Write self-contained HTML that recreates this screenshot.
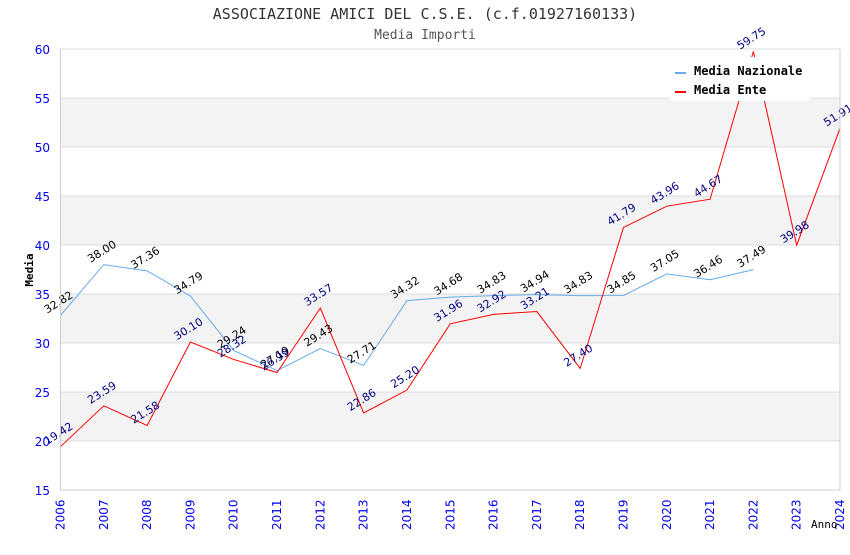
<!DOCTYPE html>
<html><head><meta charset="utf-8"><style>
body{margin:0;background:#fff;}
svg text{font-family:"DejaVu Sans","Liberation Sans",sans-serif;}
.mono{font-family:"DejaVu Sans Mono","Liberation Mono",monospace;}
</style></head><body>
<svg id="c" width="850" height="550" xmlns="http://www.w3.org/2000/svg">
<text x="425" y="19" text-anchor="middle" class="mono" font-size="15" fill="#333">ASSOCIAZIONE AMICI DEL C.S.E. (c.f.01927160133)</text>
<text x="425" y="39" text-anchor="middle" class="mono" font-size="13" fill="#555">Media Importi</text>
<g id="grid"></g>
<g id="series"></g>
<g id="labels"></g>
<g id="axes"></g>
<g>
<rect x="670" y="57" width="140" height="44" fill="#fff"/>
<line x1="675" y1="73" x2="686" y2="73" stroke="#66aaee" stroke-width="2"/>
<text x="694" y="75" class="mono" font-size="12" font-weight="bold" fill="#000">Media Nazionale</text>
<line x1="675" y1="92" x2="686" y2="92" stroke="#ff0000" stroke-width="2"/>
<text x="694" y="94" class="mono" font-size="12" font-weight="bold" fill="#000">Media Ente</text>
</g>
<text x="33" y="270" transform="rotate(-90 33 270)" text-anchor="middle" class="mono" font-size="11" font-weight="bold" fill="#000">Media</text>
<text x="811" y="528" class="mono" font-size="11" fill="#000">Anno</text>
</svg>
<script>
const years=[2006,2007,2008,2009,2010,2011,2012,2013,2014,2015,2016,2017,2018,2019,2020,2021,2022,2023,2024];
const nazionale=[32.82,38.00,37.36,34.79,29.24,27.19,29.43,27.71,34.32,34.68,34.83,34.94,34.83,34.85,37.05,36.46,37.49];
const ente=[19.42,23.59,21.58,30.10,28.32,26.99,33.57,22.86,25.20,31.96,32.92,33.21,27.40,41.79,43.96,44.67,59.75,39.98,51.91];
const yTicks=[15,20,25,30,35,40,45,50,55,60];
const L=60.5,R=840,T=49,B=490,yMin=15,yMax=60;
const x=i=>L+(R-L)*i/(years.length-1);
const y=v=>B-(v-yMin)/(yMax-yMin)*(B-T);
const NS="http://www.w3.org/2000/svg";
function mk(tag,attrs,parent,txt){const e=document.createElementNS(NS,tag);for(const k in attrs)e.setAttribute(k,attrs[k]);if(txt!==undefined)e.textContent=txt;document.getElementById(parent).appendChild(e);return e;}
for(let k=0;k<yTicks.length-1;k++){
 if(k%2===1){const r=mk('rect',{x:L,y:y(yTicks[k+1]),width:R-L,height:y(yTicks[k])-y(yTicks[k+1]),fill:'#f3f3f3'},'grid');
 
 }
}
yTicks.forEach(t=>{
 const l=mk('line',{x1:L,x2:R,y1:y(t),y2:y(t),stroke:'#ddd'},'grid');
 
 
 const tx=mk('text',{x:50,y:y(t)+5,'text-anchor':'end','font-size':12,fill:'#0000ee'},'axes',t);
 
 
});
const ax=mk('path',{d:`M${L},${T}V${B}H${R}V${T}`,fill:'none',stroke:'#ccc'},'axes');


years.forEach((yr,i)=>{
 const tx=mk('text',{x:x(i)+4,y:530,transform:`rotate(-90 ${x(i)+4} 530)`,'font-size':12,fill:'#0000ee'},'axes',yr);
 
 
});
function series(vals,color,lblColor,name){
 const p=mk('polyline',{points:vals.map((v,i)=>x(i)+','+y(v)).join(' '),fill:'none',stroke:color,'stroke-width':1},'series');
 
 
 vals.forEach((v,i)=>{
  const cx=x(i),cy=y(v)-10;
  const t=mk('text',{x:cx,y:cy,'text-anchor':'middle','font-size':11,fill:lblColor,transform:`rotate(-32 ${cx} ${cy})`},'labels',v.toFixed(2));
  
  
 });
}
series(nazionale,'#66aaee','#000','nazionale');
series(ente,'#ff0000','#000080','ente');
</script>
</body></html>
